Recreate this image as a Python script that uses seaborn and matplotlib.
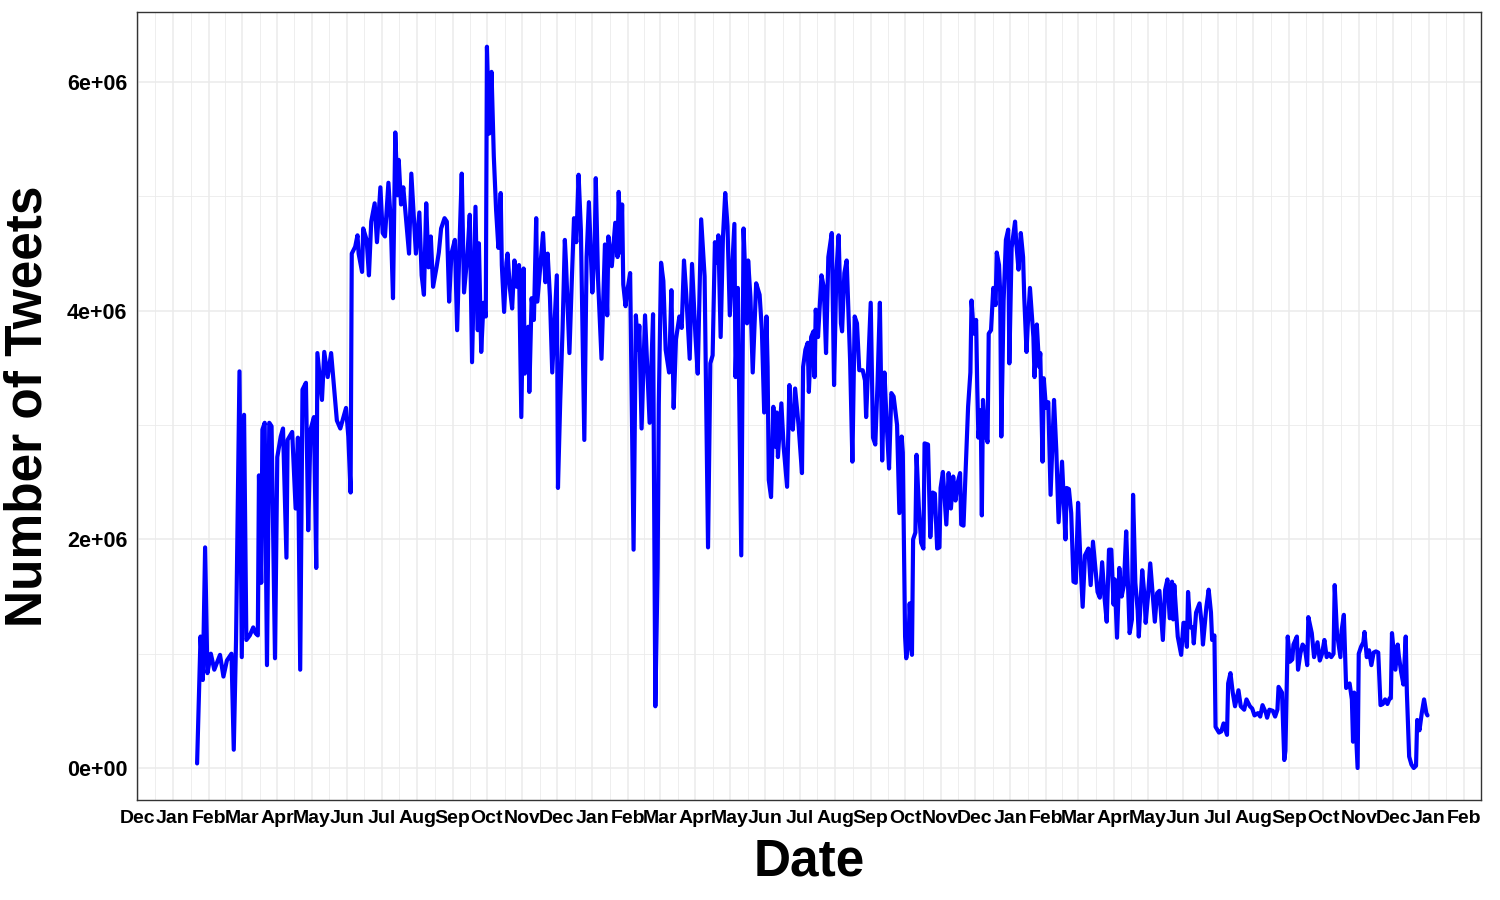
import numpy as np
import pandas as pd
import matplotlib
matplotlib.use("Agg")
import matplotlib.pyplot as plt
import matplotlib.dates as mdates
import matplotlib.ticker as mticker
import seaborn as sns

# daily tweet counts (day 0 = 2020-01-22), values in millions
start_date = "2020-01-22"
days = [
    0, 3, 5, 7, 9, 12, 15, 20, 23, 26, 30, 32, 34, 37, 39, 41, 43, 46, 49, 51,
    53, 54, 56, 57, 59, 61, 63, 65, 68, 70, 73, 75, 78, 79, 83, 86, 88, 90, 92, 95,
    97, 99, 102, 104, 105, 109, 111, 114, 117, 122, 125, 130, 132, 134, 135, 138, 140, 141, 144, 145,
    148, 150, 152, 155, 157, 160, 162, 164, 167, 169, 171, 173, 175, 176, 178, 180, 185, 187, 191, 194,
    196, 198, 200, 202, 204, 206, 209, 211, 213, 216, 218, 220, 222, 225, 227, 229, 231, 233, 236, 238,
    240, 243, 245, 246, 248, 250, 252, 253, 255, 257, 259, 261, 263, 265, 266, 268, 270, 271, 273, 275,
    277, 279, 281, 283, 285, 286, 289, 290, 292, 294, 296, 297, 300, 302, 304, 306, 308, 310, 312, 314,
    315, 317, 319, 321, 322, 325, 327, 329, 331, 333, 335, 338, 340, 342, 345, 347, 348, 350, 353, 356,
    358, 359, 362, 365, 367, 368, 370, 371, 372, 374, 375, 378, 381, 383, 385, 386, 388, 391, 395, 398,
    400, 402, 403, 405, 407, 409, 412, 414, 416, 418, 421, 423, 425, 427, 430, 432, 435, 437, 440, 443,
    446, 448, 450, 452, 454, 455, 457, 459, 461, 463, 465, 469, 470, 472, 475, 477, 480, 481, 483, 485,
    488, 491, 493, 495, 497, 498, 499, 501, 503, 505, 506, 507, 510, 512, 515, 517, 518, 520, 522, 525,
    528, 529, 531, 533, 534, 536, 538, 539, 540, 542, 545, 547, 549, 551, 554, 556, 558, 560, 562, 563,
    565, 567, 570, 572, 574, 576, 578, 581, 583, 584, 588, 590, 592, 594, 596, 598, 600, 602, 604, 606,
    608, 611, 613, 615, 616, 618, 619, 621, 622, 624, 625, 627, 628, 630, 632, 634, 635, 638, 640, 642,
    644, 646, 648, 649, 651, 654, 656, 658, 660, 662, 664, 666, 667, 669, 671, 673, 675, 676, 678, 680,
    681, 682, 684, 685, 686, 688, 690, 691, 693, 695, 697, 698, 700, 701, 702, 704, 706, 708, 709, 711,
    714, 715, 717, 719, 721, 722, 724, 725, 727, 730, 731, 733, 735, 736, 738, 739, 741, 743, 745, 748,
    750, 752, 755, 758, 759, 761, 763, 765, 767, 769, 771, 773, 775, 778, 780, 782, 784, 786, 788, 790,
    792, 794, 796, 798, 800, 801, 803, 805, 807, 809, 811, 813, 814, 816, 817, 819, 821, 822, 825, 827,
    828, 830, 832, 834, 836, 838, 840, 843, 845, 847, 849, 851, 852, 853, 856, 859, 861, 862, 864, 865,
    867, 869, 870, 872, 875, 877, 878, 881, 883, 885, 886, 888, 889, 892, 894, 896, 899, 900, 902, 904,
    906, 909, 911, 914, 916, 919, 921, 923, 926, 928, 930, 933, 934, 936, 939, 941, 943, 944, 947, 949,
    950, 952, 954, 956, 957, 960, 961, 963, 965, 967, 969, 970, 973, 975, 978, 980, 982, 984, 986, 988,
    990, 992, 993, 995, 998, 999, 1001, 1003, 1006, 1008, 1009, 1010, 1013, 1014, 1016, 1018, 1019, 1021, 1023, 1025,
    1027, 1029, 1031, 1033, 1035, 1037, 1039, 1041, 1042, 1043, 1046, 1048, 1049, 1051, 1053, 1055, 1056, 1058, 1060, 1062,
    1064, 1065, 1067, 1069, 1071, 1073, 1074,
]
tweets_m = [
    0.04, 1.15, 0.77, 1.93, 0.83, 1.00, 0.86, 0.99, 0.80, 0.94, 1.00, 0.16, 1.12, 3.47, 0.97, 3.09, 1.12, 1.16, 1.23, 1.18,
    1.16, 2.56, 1.62, 2.96, 3.02, 0.90, 3.02, 2.99, 0.96, 2.72, 2.90, 2.97, 1.84, 2.87, 2.94, 2.27, 2.89, 0.86, 3.31, 3.37,
    2.08, 2.96, 3.07, 1.75, 3.63, 3.22, 3.64, 3.42, 3.63, 3.04, 2.97, 3.15, 2.90, 2.41, 4.50, 4.56, 4.66, 4.50, 4.34, 4.72,
    4.62, 4.31, 4.78, 4.94, 4.60, 5.08, 4.68, 4.65, 5.12, 4.79, 4.11, 5.56, 5.01, 5.32, 4.93, 5.08, 4.50, 5.20, 4.50, 4.86,
    4.31, 4.14, 4.94, 4.38, 4.65, 4.21, 4.38, 4.51, 4.72, 4.81, 4.78, 4.08, 4.50, 4.62, 3.83, 4.56, 5.20, 4.16, 4.49, 4.84,
    3.55, 4.91, 3.83, 4.59, 3.64, 4.07, 3.95, 6.31, 5.55, 6.09, 5.35, 4.88, 4.55, 5.03, 4.40, 3.99, 4.42, 4.50, 4.20, 4.02,
    4.44, 4.21, 4.40, 3.07, 4.37, 3.45, 3.86, 3.29, 4.11, 3.92, 4.81, 4.08, 4.44, 4.68, 4.25, 4.50, 4.12, 3.46, 3.89, 4.31,
    2.45, 3.22, 3.83, 4.62, 4.42, 3.63, 4.24, 4.81, 4.60, 5.19, 4.71, 2.87, 4.47, 4.95, 4.16, 4.53, 5.16, 4.27, 3.58, 4.58,
    3.96, 4.65, 4.39, 4.77, 4.47, 5.04, 4.51, 4.93, 4.23, 4.04, 4.14, 4.33, 1.91, 3.96, 3.66, 3.87, 2.97, 3.96, 3.02, 3.97,
    0.54, 1.75, 3.18, 4.42, 4.26, 3.66, 3.46, 4.18, 3.15, 3.75, 3.95, 3.85, 4.44, 4.14, 3.58, 4.41, 3.78, 3.45, 4.80, 4.30,
    1.93, 3.54, 3.61, 4.60, 4.42, 4.66, 3.77, 4.64, 5.03, 4.74, 3.96, 4.76, 3.42, 4.20, 1.86, 4.72, 3.89, 4.44, 4.12, 3.46,
    4.24, 4.14, 3.83, 3.11, 3.95, 3.51, 2.52, 2.37, 3.16, 2.81, 3.11, 2.72, 3.19, 2.81, 2.46, 3.35, 3.04, 2.96, 3.32, 3.00,
    2.58, 3.51, 3.66, 3.72, 3.29, 3.77, 3.82, 3.42, 4.01, 3.77, 4.31, 4.21, 3.63, 4.47, 4.68, 3.35, 4.33, 4.66, 3.89, 3.82,
    4.33, 4.44, 3.57, 2.68, 3.95, 3.89, 3.48, 3.48, 3.39, 3.07, 4.07, 2.89, 2.83, 3.38, 4.07, 2.69, 3.46, 3.00, 2.62, 3.28,
    3.25, 3.00, 2.23, 2.90, 2.76, 1.15, 0.96, 1.10, 1.44, 0.99, 2.00, 2.06, 2.74, 2.28, 1.97, 1.92, 2.84, 2.83, 2.02, 2.41,
    2.40, 1.92, 1.93, 2.45, 2.59, 2.13, 2.58, 2.27, 2.55, 2.34, 2.50, 2.58, 2.13, 2.12, 2.63, 3.16, 3.46, 4.09, 3.80, 3.92,
    3.33, 2.89, 3.13, 2.21, 3.22, 2.93, 2.85, 3.80, 3.83, 4.20, 4.05, 4.51, 4.40, 4.16, 2.90, 4.09, 4.62, 4.71, 3.54, 4.55,
    4.78, 4.60, 4.36, 4.68, 4.47, 4.12, 3.64, 3.86, 4.20, 3.77, 3.42, 3.88, 3.51, 3.63, 2.68, 3.41, 3.15, 3.20, 2.39, 3.22,
    2.78, 2.15, 2.68, 2.00, 2.45, 2.44, 2.23, 1.63, 1.62, 2.32, 1.82, 1.41, 1.86, 1.92, 1.60, 1.98, 1.76, 1.54, 1.49, 1.80,
    1.50, 1.28, 1.91, 1.91, 1.43, 1.65, 1.14, 1.75, 1.50, 1.60, 2.07, 1.48, 1.18, 1.30, 2.39, 1.62, 1.38, 1.15, 1.73, 1.50,
    1.27, 1.50, 1.79, 1.53, 1.28, 1.53, 1.55, 1.12, 1.56, 1.65, 1.31, 1.63, 1.30, 1.60, 1.15, 0.99, 1.27, 1.27, 1.06, 1.54,
    1.23, 1.23, 1.09, 1.36, 1.44, 1.25, 1.08, 1.41, 1.56, 1.36, 1.12, 1.16, 0.36, 0.31, 0.32, 0.39, 0.29, 0.74, 0.83, 0.66,
    0.54, 0.68, 0.54, 0.51, 0.60, 0.54, 0.52, 0.46, 0.48, 0.45, 0.55, 0.48, 0.44, 0.51, 0.50, 0.45, 0.51, 0.71, 0.66, 0.07,
    0.15, 1.15, 0.93, 0.95, 1.08, 1.15, 0.86, 1.00, 1.08, 1.05, 0.90, 1.32, 1.18, 0.97, 1.10, 0.94, 1.00, 1.12, 0.97, 1.00,
    0.97, 1.00, 1.60, 1.18, 0.97, 1.20, 1.34, 0.70, 0.74, 0.60, 0.23, 0.66, 0.00, 1.00, 1.06, 1.10, 1.19, 0.97, 1.03, 0.90,
    1.01, 1.02, 1.01, 0.55, 0.56, 0.60, 0.56, 0.61, 0.61, 1.18, 0.86, 1.08, 0.98, 0.84, 0.73, 1.15, 0.66, 0.10, 0.03, 0.00,
    0.02, 0.42, 0.33, 0.48, 0.60, 0.48, 0.46,
]

y_ticks = [0, 2e6, 4e6, 6e6]
y_tick_labels = ["0e+00", "2e+06", "4e+06", "6e+06"]

df = pd.DataFrame({
    "Date": pd.Timestamp(start_date) + pd.to_timedelta(days, unit="D"),
    "Tweets": np.array(tweets_m) * 1e6,
})

sns.set_theme(style="whitegrid")
plt.rcParams["font.family"] = ["Liberation Sans", "DejaVu Sans"]

fig, ax = plt.subplots(figsize=(15, 9), dpi=100)
fig.subplots_adjust(left=0.0913, right=0.9873, top=0.9867, bottom=0.1111)

sns.lineplot(data=df, x="Date", y="Tweets", color="blue", linewidth=3.0, ax=ax)
for line in ax.get_lines():
    line.set_solid_joinstyle("round")
    line.set_solid_capstyle("round")

# x axis: month breaks with minor breaks half-way between
majors = pd.date_range("2019-12-01", "2023-02-01", freq="MS")
minors = majors[:-1] + (majors[1:] - majors[:-1]) / 2
ax.set_xticks(majors)
ax.set_xticks(minors, minor=True)
ax.xaxis.set_major_formatter(mdates.DateFormatter("%b"))
ax.set_xlim(pd.Timestamp("2019-11-30 12:00"), pd.Timestamp("2023-02-15 16:00"))

ax.set_yticks(y_ticks)
ax.set_yticklabels(y_tick_labels)
ax.yaxis.set_minor_locator(mticker.FixedLocator([1e6, 3e6, 5e6]))
ax.set_ylim(-0.28e6, 6.614e6)

ax.set_facecolor("white")
ax.grid(which="major", color="#EBEBEB", linewidth=1.1)
ax.grid(which="minor", color="#EBEBEB", linewidth=0.6)
ax.set_axisbelow(True)
for side in ["left", "right", "top", "bottom"]:
    ax.spines[side].set_visible(True)
    ax.spines[side].set_color("#333333")
    ax.spines[side].set_linewidth(1.0)

ax.tick_params(axis="both", which="major", length=4, width=1.0, color="#333333",
               labelcolor="black", pad=3)
ax.tick_params(axis="x", which="major", labelsize=14)
ax.tick_params(axis="y", which="major", labelsize=15.5)
ax.tick_params(axis="both", which="minor", length=0)
for lab in ax.get_xticklabels() + ax.get_yticklabels():
    lab.set_fontweight("bold")

ax.set_xlabel("Date", fontsize=37, fontweight="bold", color="black", labelpad=8)
ax.set_ylabel("Number of Tweets", fontsize=37, fontweight="bold", color="black", labelpad=10)

fig.savefig("out.png", dpi=100, facecolor="white")
